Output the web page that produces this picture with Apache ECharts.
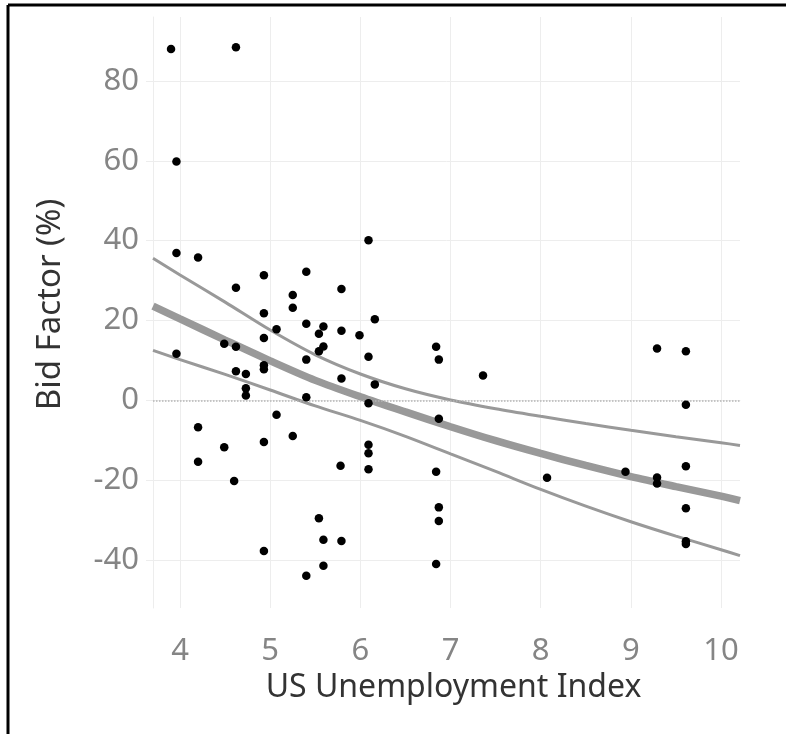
<!DOCTYPE html>
<html lang="en">

<head>
    <meta charset="UTF-8">
    <title>Bid Factor vs US Unemployment</title>
    <script src="https://cdn.jsdelivr.net/npm/echarts@6.0.0/dist/echarts.min.js"></script>
    <style>
        body { margin: 0; background: #fff; }
    </style>
</head>

<body>
    <div id="main" style="width: 786px;height:734px;"></div>

    <script type="text/javascript">
        // Scatter points
        const unemployment = [3.90, 4.62, 3.96, 3.96, 4.20, 6.09, 4.93, 5.40, 4.62, 5.25,
            5.79, 5.25, 4.93, 6.16, 5.40, 5.07, 5.59, 5.54, 5.79, 5.99,
            4.93, 4.49, 4.62, 3.96, 5.59, 5.54, 6.09, 6.84, 6.87, 5.40,
            4.93, 4.93, 4.62, 4.73, 5.79, 6.16, 4.73, 4.73, 5.40, 6.09,
            5.07, 6.87, 4.20, 5.25, 4.93, 4.49, 6.09, 6.09, 4.20, 5.78,
            6.09, 6.84, 4.60, 5.54, 6.87, 6.87, 5.59, 5.79, 4.93, 6.84,
            5.59, 5.40, 9.29, 9.61, 7.36, 9.61, 9.61, 8.07, 8.94, 9.29,
            9.29, 9.61, 9.61, 9.61];
        const bidFactor = [88.0, 88.4, 59.8, 36.9, 35.8, 40.1, 31.3, 32.2, 28.2, 26.4,
            27.9, 23.2, 21.8, 20.3, 19.2, 17.8, 18.5, 16.7, 17.4, 16.3,
            15.6, 14.2, 13.4, 11.7, 13.5, 12.3, 10.9, 13.4, 10.2, 10.2,
            8.8, 7.8, 7.3, 6.6, 5.5, 4.0, 3.0, 1.2, 0.75, -0.7,
            -3.6, -4.6, -6.75, -8.9, -10.4, -11.75, -11.1, -13.25, -15.4, -16.4,
            -17.25, -17.9, -20.2, -29.5, -26.8, -30.2, -34.9, -35.25, -37.75, -41.0,
            -41.4, -43.9, 13.0, 12.3, 6.2, -1.1, -16.5, -19.4, -17.9, -19.3,
            -20.8, -27.0, -35.3, -36.0];

        // Fitted trend and its bounds, read at these x positions
        const curveX = [3.7, 4, 4.5, 5, 5.5, 6, 6.5, 7, 7.5, 8, 8.5, 9, 9.5, 10, 10.21];
        const fitMid = [23.6, 20.4, 15.1, 9.9, 5.0, 0.9, -2.9, -6.6, -10.1, -13.3, -16.3, -19.1, -21.6, -24.0, -25.1];
        const fitUpper = [35.6, 31.4, 24.6, 17.6, 11.4, 6.6, 2.9, 0.1, -2.1, -4.0, -5.8, -7.5, -9.1, -10.6, -11.3];
        const fitLower = [12.5, 10.2, 6.5, 2.6, -1.4, -5.0, -9.0, -13.4, -17.8, -22.3, -26.5, -30.4, -34.0, -37.4, -38.9];

        const xTicks = [4, 5, 6, 7, 8, 9, 10];
        const yTicks = [-40, -20, 0, 20, 40, 60, 80];

        const pair = (xs, ys) => xs.map((x, i) => [x, ys[i]]);

        let myChart = echarts.init(document.getElementById('main'));

        const gridColor = '#ededed';
        const curveColor = '#999999';

        let options = {
            animation: false,
            textStyle: { fontFamily: 'Noto Sans' },
            grid: { left: 153, right: 46, top: 17, bottom: 126 },
            graphic: [
                // black frame on top and left edges
                { type: 'line', shape: { x1: 8, y1: 5, x2: 786, y2: 5 }, style: { stroke: '#000', lineWidth: 3 } },
                { type: 'line', shape: { x1: 8, y1: 5, x2: 8, y2: 734 }, style: { stroke: '#000', lineWidth: 3 } }
            ],
            xAxis: {
                type: 'value',
                min: 3.7,
                max: 10.21,
                name: 'US Unemployment Index',
                nameLocation: 'middle',
                nameGap: 64,
                nameTextStyle: { fontSize: 32, color: '#333', padding: [0, 0, 0, 14] },
                axisLine: { show: true, lineStyle: { color: gridColor } },
                axisTick: { show: true, length: 7, customValues: xTicks, lineStyle: { color: gridColor } },
                axisLabel: { customValues: xTicks, fontSize: 31, color: '#858585', margin: 28 },
                splitLine: { show: true, lineStyle: { color: gridColor } }
            },
            yAxis: {
                type: 'value',
                min: -52,
                max: 96,
                name: 'Bid Factor (%)',
                nameLocation: 'middle',
                nameGap: 86,
                nameTextStyle: { fontSize: 33, color: '#333', padding: [0, 0, 0, 16] },
                axisLine: { show: true, lineStyle: { color: gridColor } },
                axisTick: { show: true, length: 7, customValues: yTicks, lineStyle: { color: gridColor } },
                axisLabel: { customValues: yTicks, fontSize: 31, color: '#858585', margin: 14 },
                splitLine: {
                    show: true,
                    lineStyle: { color: yTicks.map(v => v === 0 ? 'rgba(0,0,0,0)' : gridColor) }
                }
            },
            series: [
                {
                    type: 'line',
                    data: pair(curveX, fitUpper),
                    smooth: 0.3,
                    showSymbol: false,
                    lineStyle: { color: curveColor, width: 3 },
                    markLine: {
                        silent: true,
                        symbol: 'none',
                        label: { show: false },
                        lineStyle: { color: '#b5b5b5', type: 'dotted', width: 1.5 },
                        data: [{ yAxis: 0 }]
                    }
                },
                {
                    type: 'line',
                    data: pair(curveX, fitLower),
                    smooth: 0.3,
                    showSymbol: false,
                    lineStyle: { color: curveColor, width: 3 }
                },
                {
                    type: 'line',
                    data: pair(curveX, fitMid),
                    smooth: 0.3,
                    showSymbol: false,
                    lineStyle: { color: curveColor, width: 7.5 }
                },
                {
                    type: 'scatter',
                    data: pair(unemployment, bidFactor),
                    symbolSize: 8.5,
                    itemStyle: { color: '#000', opacity: 1 },
                    z: 5
                }
            ]
        };

        myChart.setOption(options);
    </script>
</body>

</html>
